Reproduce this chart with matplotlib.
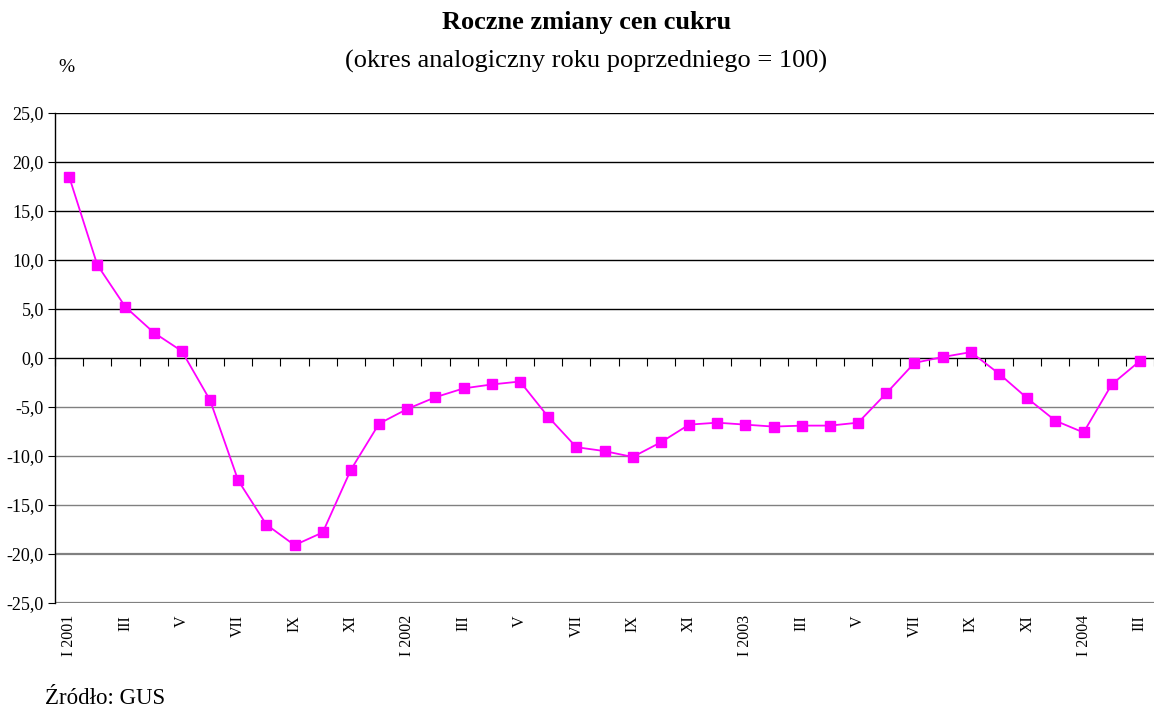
import matplotlib
matplotlib.use("Agg")
import matplotlib.pyplot as plt
import matplotlib.transforms as mtransforms
from matplotlib.ticker import FuncFormatter

# ── Data ──────────────────────────────────────────────────────────────────────
months = ["I 2001", "II", "III", "IV", "V", "VI", "VII", "VIII", "IX", "X", "XI", "XII",
          "I 2002", "II", "III", "IV", "V", "VI", "VII", "VIII", "IX", "X", "XI", "XII",
          "I 2003", "II", "III", "IV", "V", "VI", "VII", "VIII", "IX", "X", "XI", "XII",
          "I 2004", "II", "III"]
change = [18.5, 9.5, 5.2, 2.6, 0.7, -4.3, -12.5, -17.0, -19.1, -17.8, -11.4, -6.7,
          -5.2, -4.0, -3.1, -2.7, -2.4, -6.0, -9.1, -9.5, -10.1, -8.6, -6.8, -6.6,
          -6.8, -7.0, -6.9, -6.9, -6.6, -3.6, -0.5, 0.1, 0.6, -1.6, -4.1, -6.4,
          -7.6, -2.7, -0.3]
y_ticks = [-25, -20, -15, -10, -5, 0, 5, 10, 15, 20, 25]

LINE_COLOR = "#FF00FF"
SERIF = "Liberation Serif"

plt.rcParams.update({
    "font.family": SERIF,
    "figure.dpi": 100,
})

fig = plt.figure(figsize=(11.54, 7.13))
ax = fig.add_axes([0.0477, 0.1543, 0.9523, 0.6872])

x = list(range(len(change)))
ax.plot(x, change, color=LINE_COLOR, linewidth=1.3, marker="s", markersize=6.8,
        markerfacecolor=LINE_COLOR, markeredgecolor=LINE_COLOR, zorder=4, clip_on=False)

ax.set_xlim(-0.5, 38.2)
ax.set_ylim(-25, 25)

# y axis
ax.set_yticks(y_ticks)
ax.yaxis.set_major_formatter(FuncFormatter(lambda v, p: f"{v:.1f}".replace(".", ",")))
ax.tick_params(axis="y", direction="out", length=5, width=0.8, labelsize=13, pad=3)

# horizontal gridlines: black above zero, grey below
for v in y_ticks:
    if v > 0:
        ax.axhline(v, color="black", linewidth=1.0, zorder=1)
    elif v < 0:
        lw = 1.6 if v <= -20 else 1.0
        ax.axhline(v, color="#808080", linewidth=lw, zorder=1)

for side in ["top", "right"]:
    ax.spines[side].set_visible(False)
ax.spines["left"].set_linewidth(1.0)
ax.spines["bottom"].set_position(("data", 0))
ax.spines["bottom"].set_linewidth(1.0)
ax.spines["bottom"].set_zorder(2)

# category boundary ticks on the zero line
ax.set_xticks([i - 0.5 for i in range(len(months) + 1)])
ax.set_xticklabels([])
ax.tick_params(axis="x", direction="out", length=6, width=0.8)

# month labels below the plot, every second month
trans = mtransforms.blended_transform_factory(ax.transData, ax.transAxes)
for i, lab in enumerate(months):
    if i % 2 == 0:
        ax.text(i, -0.025, lab, transform=trans, rotation=90, ha="center", va="top",
                fontsize=11.5, family=SERIF)

fig.text(0.508, 0.968, "Roczne zmiany cen cukru", ha="center", va="center",
         fontsize=19, fontweight="bold", family=SERIF)
fig.text(0.508, 0.914, "(okres analogiczny roku poprzedniego = 100)", ha="center",
         va="center", fontsize=19, family=SERIF)
fig.text(0.058, 0.906, "%", ha="center", va="center", fontsize=14, family=SERIF)
fig.text(0.039, 0.02, "Źródło: GUS", ha="left", va="center", fontsize=16.5, family=SERIF)

plt.savefig("out.png", dpi=100)
plt.close()
